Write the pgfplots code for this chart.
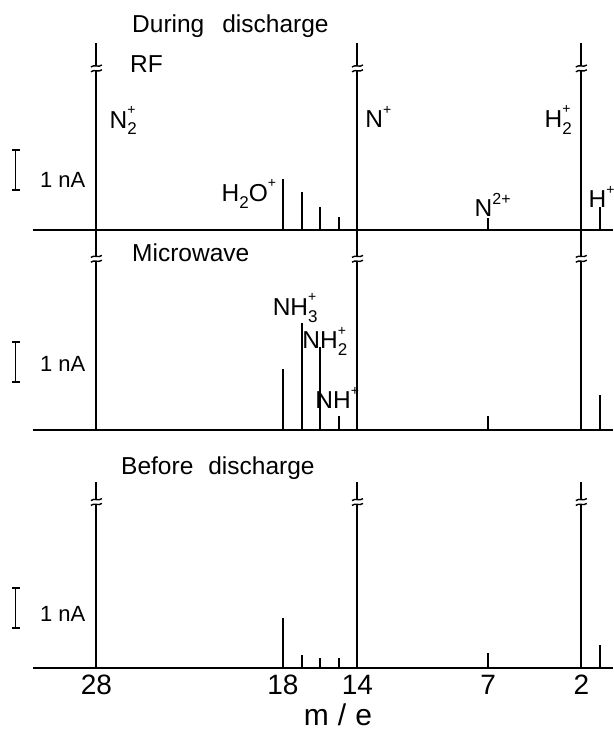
\documentclass[border=0pt]{standalone}
\usepackage{fontspec}
\setmainfont{Liberation Sans}
\usepackage{pgfplots}
\pgfplotsset{compat=1.18}

\pgfdeclareplotmark{brk}{%
  \pgfpathrectangle{\pgfpoint{-2.5pt}{-2.4pt}}{\pgfpoint{5pt}{4.8pt}}%
  \pgfsetfillcolor{white}\pgfusepath{fill}%
  \pgfsetlinewidth{1.4pt}\pgfsetstrokecolor{black}%
  \pgfpathmoveto{\pgfpoint{-5.5pt}{1.4pt}}%
  \pgfpathcurveto{\pgfpoint{-2pt}{4.4pt}}{\pgfpoint{2pt}{0.4pt}}{\pgfpoint{5.5pt}{3.4pt}}%
  \pgfpathmoveto{\pgfpoint{-5.5pt}{-3.4pt}}%
  \pgfpathcurveto{\pgfpoint{-2pt}{-0.4pt}}{\pgfpoint{2pt}{-4.4pt}}{\pgfpoint{5.5pt}{-1.4pt}}%
  \pgfusepath{stroke}}

\newcommand{\sps}[2]{\makebox[0pt][l]{\raisebox{0.55em}{\fontsize{14}{14}\selectfont #1}}\raisebox{-0.28em}{\fontsize{17}{17}\selectfont #2}}
\newcommand{\spp}[1]{\raisebox{0.55em}{\fontsize{14}{14}\selectfont #1}}
\newcommand{\lab}{\fontsize{24.5}{28}\selectfont}

\pgfplotsset{
  panel/.style={scale only axis, width=580pt, x dir=reverse, xmin=0.3, xmax=31.4, ymin=0,
    axis x line=bottom, axis y line=none, axis line style={-, line width=2pt},
    xtick=\empty, ytick=\empty, major tick length=0pt, clip=false, anchor=south west},
  stick/.style={ycomb, no marks, line width=2pt, black},
  brks/.style={only marks, mark=brk, mark options={solid}},
}

\begin{document}
\begin{tikzpicture}[x=1pt,y=1pt]
\useasboundingbox (0,0) rectangle (613,733);

% ---------- RF ----------
\begin{axis}[panel, at={(33pt,503pt)}, height=187pt, ymax=4.675]
\addplot[stick] table {
x y
28 4.675
18 1.28
17 0.95
16 0.58
15 0.33
14 4.675
7 0.30
2 4.675
1 0.58
};
\addplot[brks] coordinates {(28,4.04) (14,4.04) (2,4.04)};
\node[anchor=west, inner sep=0] at (axis cs:27.3,2.73) {\lab N\sps{+}{2}};
\node[anchor=east, inner sep=0] at (axis cs:18.36,0.9) {\lab H\raisebox{-0.28em}{\fontsize{17}{17}\selectfont 2}O\spp{+}};
\node[anchor=west, inner sep=0] at (axis cs:13.59,2.83) {\lab N\spp{+}};
\node[anchor=east, inner sep=0] at (axis cs:2.50,2.75) {\lab H\sps{+}{2}};
\node[anchor=center, inner sep=0] at (axis cs:6.75,0.63) {\lab N\raisebox{0.5em}{\fontsize{16}{16}\selectfont 2+}};
\node[anchor=west, inner sep=0] at (axis cs:1.62,0.83) {\lab H\spp{+}};
\end{axis}

% ---------- Microwave ----------
\begin{axis}[panel, at={(33pt,303pt)}, height=200pt, ymax=5]
\addplot[stick] table {
x y
28 5
18 1.53
17 2.68
16 2.08
15 0.35
14 5
7 0.35
2 5
1 0.88
};
\addplot[brks] coordinates {(28,4.28) (14,4.28) (2,4.28)};
\node[anchor=center, inner sep=0] at (axis cs:17.34,3.05) {\lab NH\sps{+}{3}};
\node[anchor=center, inner sep=0] at (axis cs:15.75,2.22) {\lab NH\sps{+}{2}};
\node[anchor=center, inner sep=0] at (axis cs:15.09,0.80) {\lab NH\spp{+}};
\end{axis}

% ---------- Before discharge ----------
\begin{axis}[panel, at={(33pt,65pt)}, height=186pt, ymax=4.65,
  xtick={28,18,14,7,2}, xticklabels={28,18,14,7,2},
  xticklabel style={font=\fontsize{28}{28}\selectfont, inner sep=2pt, yshift=-5pt},
  /pgf/number format/assume math mode=true]
\addplot[stick] table {
x y
28 4.65
18 1.25
17 0.33
16 0.25
15 0.25
14 4.65
7 0.38
2 4.65
1 0.58
};
\addplot[brks] coordinates {(28,4.15) (14,4.15) (2,4.15)};
\end{axis}

% headings
\node[anchor=base west, inner sep=0] at (132,700) {\lab During\hspace{18pt}discharge};
\node[anchor=base west, inner sep=0] at (130,660) {\lab RF};
\node[anchor=base west, inner sep=0] at (132,471) {\lab Microwave};
\node[anchor=base west, inner sep=0] at (121,258) {\lab Before\hspace{15pt}discharge};

% 1 nA scale bars
\foreach \yb/\yt in {543/583, 351/391, 105/145}{
  \draw[line width=1.4pt] (15.5,\yb) -- (15.5,\yt);
  \draw[line width=1.4pt] (12,\yb) -- (20,\yb);
  \draw[line width=1.4pt] (12,\yt) -- (20,\yt);
}
\node[anchor=west, inner sep=0] at (40,553) {\fontsize{22}{22}\selectfont 1\hspace{6pt}nA};
\node[anchor=west, inner sep=0] at (40,369) {\fontsize{22}{22}\selectfont 1\hspace{6pt}nA};
\node[anchor=west, inner sep=0] at (40,119) {\fontsize{22}{22}\selectfont 1\hspace{6pt}nA};

% x label
\node[anchor=base, inner sep=0] at (338,7) {\fontsize{30}{30}\selectfont m\hspace{9pt}/\hspace{9pt}e};
\end{tikzpicture}
\end{document}
